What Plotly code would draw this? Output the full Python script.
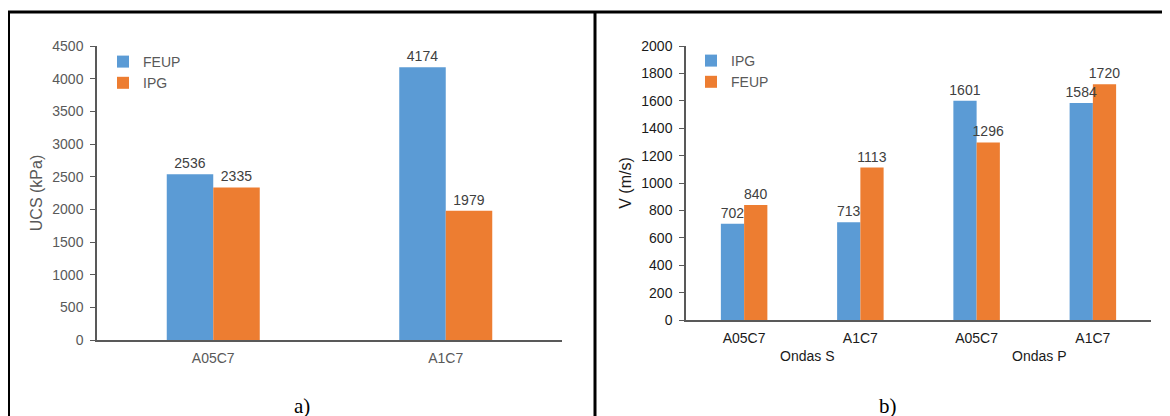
import plotly.graph_objects as go

# ---- data ----
cats_a = ["A05C7", "A1C7"]
feup_a = [2536, 4174]
ipg_a = [2335, 1979]

cats_b = ["A05C7", "A1C7", "A05C7", "A1C7"]
groups_b = ["Ondas S", "Ondas S", "Ondas P", "Ondas P"]
ipg_b = [702, 713, 1601, 1584]
feup_b = [840, 1113, 1296, 1720]

yticks_a = list(range(0, 4501, 500))
yticks_b = list(range(0, 2001, 200))

W, H = 1170, 416
OFF = 8  # page body margin of the html page
BLUE = "#5B9BD5"
ORANGE = "#ED7D31"
GREY = "#595959"
DARK = "#404040"
BLACK = "#1a1a1a"
FONT = "Liberation Sans, Arial, sans-serif"
SERIF = "Liberation Serif, Times New Roman, serif"
BARW = 0.2  # bar width in category units (gap 0.6)


def px(x):
    return (x - OFF) / W


def py(y):
    return (H - (y - OFF)) / H


pos_b = list(range(len(cats_b)))

fig = go.Figure()


def bar(x, y, name, color, xa, ya, leg, rank, offset, labels=True, bars=True):
    return go.Bar(x=x, y=y, name=name,
                  marker=dict(color=color if bars else "rgba(0,0,0,0)",
                              line=dict(width=0)),
                  text=y if labels else None, textposition="outside", cliponaxis=False,
                  constraintext="none",
                  textfont=dict(size=14, color=DARK, family=FONT),
                  offset=offset, width=BARW,
                  xaxis=xa, yaxis=ya, legend=leg, legendgroup=f"{leg}{rank}",
                  legendrank=rank, showlegend=bars, hoverinfo="skip" if not bars else None)


# left panel
fig.add_trace(bar(cats_a, feup_a, "FEUP", BLUE, "x", "y", "legend", 1, -BARW))
fig.add_trace(bar(cats_a, ipg_a, "IPG", ORANGE, "x", "y", "legend", 2, 0))
# right panel: bars first, then value labels on top of all bars
fig.add_trace(bar(pos_b, ipg_b, "IPG", BLUE, "x2", "y2", "legend2", 1, -BARW, labels=False))
fig.add_trace(bar(pos_b, feup_b, "FEUP", ORANGE, "x2", "y2", "legend2", 2, 0, labels=False))
fig.add_trace(bar(pos_b, ipg_b, "IPG", BLUE, "x2", "y2", "legend2", 1, -BARW, bars=False))
fig.add_trace(bar(pos_b, feup_b, "FEUP", ORANGE, "x2", "y2", "legend2", 2, 0, bars=False))

axis_line = dict(showline=True, linecolor=GREY, linewidth=1.5, showgrid=False,
                 zeroline=False, automargin=False)

fig.update_layout(
    width=W, height=H,
    margin=dict(l=0, r=0, t=0, b=0, pad=0, autoexpand=False),
    paper_bgcolor="white", plot_bgcolor="white",
    barmode="overlay",
    font=dict(family=FONT, size=14, color=GREY),
    xaxis=dict(domain=[px(97), px(562)], anchor="y", ticks="",
               ticklabelstandoff=4, range=[-0.5, len(cats_a) - 0.5],
               tickfont=dict(size=14, color=GREY), **axis_line),
    yaxis=dict(domain=[py(340), py(46)], anchor="x", range=[0, 4500],
               tickvals=yticks_a, ticks="outside", ticklen=5, tickcolor=GREY,
               ticklabelstandoff=4,
               tickfont=dict(size=14, color=GREY),
               title=dict(text="UCS (kPa)", font=dict(size=16, color=GREY), standoff=6),
               **axis_line),
    xaxis2=dict(domain=[px(686), px(1151)], anchor="y2", ticks="",
                tickvals=pos_b, ticktext=cats_b, range=[-0.5, len(cats_b) - 0.5],
                ticklabelstandoff=4,
                tickfont=dict(size=14, color=BLACK), **axis_line),
    yaxis2=dict(domain=[py(320), py(46)], anchor="x2", range=[0, 2000],
                tickvals=yticks_b, ticks="outside", ticklen=5, tickcolor=GREY,
                ticklabelstandoff=4,
                tickfont=dict(size=14, color=BLACK),
                title=dict(text="V (m/s)", font=dict(size=16, color=BLACK), standoff=6),
                **axis_line),
    legend=dict(x=px(103), y=py(46), xanchor="left", yanchor="top",
                bgcolor="rgba(0,0,0,0)", tracegroupgap=5, traceorder="normal",
                font=dict(size=14, color=GREY)),
    legend2=dict(x=px(691), y=py(45), xanchor="left", yanchor="top",
                 bgcolor="rgba(0,0,0,0)", tracegroupgap=5, traceorder="normal",
                 font=dict(size=14, color=GREY)),
)

# group labels for the right panel
group_names = []
for g in groups_b:
    if g not in group_names:
        group_names.append(g)
for g in group_names:
    idx = [i for i, gg in enumerate(groups_b) if gg == g]
    fig.add_annotation(x=sum(idx) / len(idx) + 0.04, y=py(356), xref="x2", yref="paper",
                       text=g, showarrow=False, xanchor="center", yanchor="middle",
                       font=dict(size=14, color=BLACK, family=FONT))

# panel captions
fig.add_annotation(x=px(302), y=py(406), xref="paper", yref="paper", text="a)",
                   showarrow=False, xanchor="center", yanchor="middle",
                   font=dict(size=21, color="black", family=SERIF))
fig.add_annotation(x=px(888), y=py(406), xref="paper", yref="paper", text="b)",
                   showarrow=False, xanchor="center", yanchor="middle",
                   font=dict(size=21, color="black", family=SERIF))

# frame lines
frame = dict(color="black", width=3)
fig.add_shape(type="line", xref="paper", yref="paper", x0=px(7), x1=1.0,
              y0=py(12), y1=py(12), line=frame)
fig.add_shape(type="line", xref="paper", yref="paper", x0=px(8.5), x1=px(8.5),
              y0=py(12), y1=0, line=frame)
fig.add_shape(type="line", xref="paper", yref="paper", x0=px(595), x1=px(595),
              y0=py(12), y1=0, line=frame)

fig.write_html("out.html")
